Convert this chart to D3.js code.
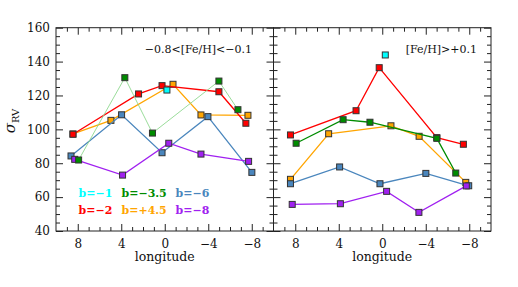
<!DOCTYPE html>
<html>
<head>
<meta charset="utf-8">
<script src="https://cdn.jsdelivr.net/npm/d3@7"></script>
<style>
  body { margin: 0; background: #fff; }
  svg text { font-family: "DejaVu Serif", serif; }
</style>
</head>
<body>
<div id="container"></div>
<script>
// sigma_RV vs longitude, two metallicity bins
// [longitude, sigma] pairs

// left panel: -0.8<[Fe/H]<-0.1
const poor_bm1 = [[-0.2, 123.2]];
const poor_bm2 = [[8.44, 97.1], [2.41, 120.9], [0.25, 125.8], [-4.98, 122.2], [-7.46, 103.6]];
const poor_bm35 = [[7.92, 81.9], [3.67, 130.5], [1.13, 97.8], [-4.98, 128.5], [-6.73, 111.6]];
const poor_bp45 = [[8.44, 97.3], [4.95, 105.3], [-0.76, 126.6], [-3.33, 108.5], [-7.65, 108.3]];
const poor_bm6 = [[8.62, 84.3], [3.97, 108.6], [0.25, 86.2], [-3.97, 107.5], [-8.01, 74.6]];
const poor_bm8 = [[8.28, 82.3], [3.88, 73.0], [-0.37, 91.8], [-3.33, 85.4], [-7.71, 81.1]];

// right panel: [Fe/H]>+0.1
const rich_bm1 = [[-0.28, 143.9]];
const rich_bm2 = [[8.44, 96.7], [2.41, 111.0], [0.28, 136.4], [-5.02, 95.1], [-7.46, 91.2]];
const rich_bm35 = [[7.92, 91.8], [3.6, 105.7], [1.13, 104.2], [-5.02, 94.7], [-6.76, 74.2]];
const rich_bp45 = [[8.44, 70.5], [4.93, 97.4], [-0.8, 102.1], [-3.39, 95.9], [-7.68, 68.7]];
const rich_bm6 = [[8.44, 67.9], [3.92, 77.8], [0.21, 67.9], [-4.01, 74.0], [-7.95, 66.7]];
const rich_bm8 = [[8.28, 55.7], [3.85, 56.1], [-0.4, 63.4], [-3.37, 51.0], [-7.73, 66.6]];

const bLabels = ['b=−1', 'b=−2', 'b=−3.5', 'b=+4.5', 'b=−6', 'b=−8'];
const panelLabels = ['−0.8<[Fe/H]<−0.1', '[Fe/H]>+0.1'];
const xTicks = [8, 4, 0, -4, -8];
const yTicks = [40, 60, 80, 100, 120, 140, 160];

const colors = {
  'b=−1': '#00ffff', 'b=−2': '#ff0000', 'b=−3.5': '#008c00',
  'b=+4.5': '#ffa500', 'b=−6': '#4a86bd', 'b=−8': '#a020f0'
};

const svgWidth = 518, svgHeight = 287;
const yTop = 27.7, yBot = 231;

const svg = d3.select('#container').append('svg')
  .attr('width', svgWidth).attr('height', svgHeight);

const yScale = d3.scaleLinear().domain([40, 160]).range([yBot, yTop]);

const panels = [
  { x0: 56, x1: 273.5, label: panelLabels[0], labelX: 252, first: true,
    data: [poor_bp45, poor_bm2, poor_bm6, poor_bm8, poor_bm35, poor_bm1],
    names: ['b=+4.5', 'b=−2', 'b=−6', 'b=−8', 'b=−3.5', 'b=−1'] },
  { x0: 273.5, x1: 491, label: panelLabels[1], labelX: 477, first: false,
    data: [rich_bp45, rich_bm2, rich_bm35, rich_bm6, rich_bm8, rich_bm1],
    names: ['b=+4.5', 'b=−2', 'b=−3.5', 'b=−6', 'b=−8', 'b=−1'] }
];

const minorX = d3.range(-9, 10).filter(d => d % 4 !== 0);
const minorY = d3.range(45, 160, 5).filter(d => d % 20 !== 0);

panels.forEach(function(p) {
  const xScale = d3.scaleLinear().domain([10, -10]).range([p.x0, p.x1]);
  const g = svg.append('g');

  // axes (major + minor ticks on all four sides)
  function addAxis(axisFn, scale, transform, major, minor, labels, pad) {
    const a = g.append('g').attr('transform', transform)
      .call(axisFn(scale).tickValues(major).tickSize(-7).tickPadding(pad)
        .tickFormat(labels ? d3.format('d') : ''));
    a.append('g').call(axisFn(scale).tickValues(minor).tickSize(-4).tickFormat(''));
    a.selectAll('.domain').remove();
    a.selectAll('line').attr('stroke', '#222').attr('stroke-width', 1);
    a.selectAll('text').attr('fill', '#111').style('font-size', '12px')
      .style('font-family', '"DejaVu Serif", serif');
  }
  addAxis(d3.axisBottom, xScale, `translate(0,${yBot})`, xTicks, minorX, true, 8);
  addAxis(d3.axisTop, xScale, `translate(0,${yTop})`, xTicks, minorX, false, 3);
  addAxis(d3.axisLeft, yScale, `translate(${p.x0},0)`, yTicks, minorY, p.first, 6);
  addAxis(d3.axisRight, yScale, `translate(${p.x1},0)`, yTicks, minorY, false, 3);

  g.append('rect')
    .attr('x', p.x0).attr('y', yTop)
    .attr('width', p.x1 - p.x0).attr('height', yBot - yTop)
    .attr('fill', 'none').attr('stroke', '#222').attr('stroke-width', 1);

  const line = d3.line().x(d => xScale(d[0])).y(d => yScale(d[1]));

  p.data.forEach(function(series, i) {
    const name = p.names[i];
    const thinGreen = p.first && name === 'b=−3.5';
    if (series.length > 1) {
      g.append('path').datum(series)
        .attr('d', line)
        .attr('fill', 'none')
        .attr('stroke', thinGreen ? '#8fd88f' : colors[name])
        .attr('stroke-width', thinGreen ? 0.9 : 1.3);
    }
    g.selectAll(null).data(series).enter().append('rect')
      .attr('x', d => xScale(d[0]) - 3)
      .attr('y', d => yScale(d[1]) - 3)
      .attr('width', 6).attr('height', 6)
      .attr('fill', colors[name])
      .attr('stroke', '#333').attr('stroke-width', 1);
  });

  g.append('text')
    .attr('x', p.labelX).attr('y', 53)
    .attr('text-anchor', 'end')
    .style('font-size', '11px').attr('fill', '#111')
    .text(p.label);

  g.append('text')
    .attr('x', (p.x0 + p.x1) / 2).attr('y', 261)
    .attr('text-anchor', 'middle')
    .style('font-size', '12.5px').attr('fill', '#111')
    .text('longitude');
});

// legend in the left panel
const legendOrder = ['b=−1', 'b=−3.5', 'b=−6', 'b=−2', 'b=+4.5', 'b=−8'];
const legendX = [78.5, 121.5, 175.5];
svg.append('g').selectAll('text')
  .data(legendOrder).enter().append('text')
  .attr('x', (d, i) => legendX[i % 3])
  .attr('y', (d, i) => i < 3 ? 197 : 214)
  .attr('fill', d => colors[d])
  .style('font-size', '11px').style('font-weight', 'bold')
  .text(d => d);

// y label: sigma_RV
const ylab = svg.append('text')
  .attr('transform', 'translate(15,121) rotate(-90)')
  .attr('text-anchor', 'middle')
  .attr('fill', '#111');
ylab.append('tspan').style('font-size', '15px').style('font-style', 'italic').text('σ');
ylab.append('tspan').attr('dy', 4).style('font-size', '10px').text('RV');
</script>
</body>
</html>
